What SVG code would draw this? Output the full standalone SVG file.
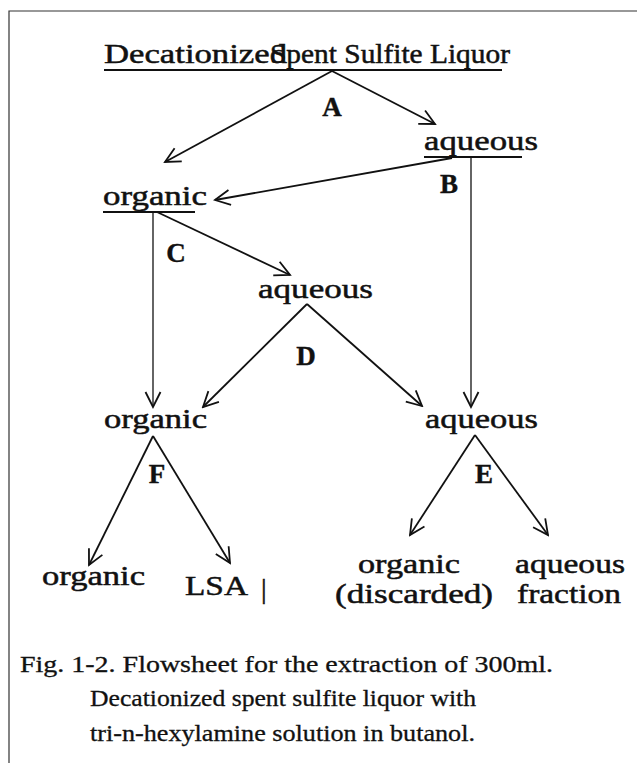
<svg xmlns="http://www.w3.org/2000/svg" width="637" height="763" viewBox="0 0 637 763">
<style>
.t{font-family:"Liberation Serif","Times New Roman",serif;font-size:28px;fill:#111;stroke:#111;stroke-width:0.5}
.b{font-family:"Liberation Serif","Times New Roman",serif;font-size:27px;font-weight:bold;fill:#111;stroke:#111;stroke-width:0.4;text-anchor:middle}
.cap{font-family:"Liberation Serif","Times New Roman",serif;font-size:23px;fill:#111;stroke:#111;stroke-width:0.3}
.ul{stroke:#111;stroke-width:2;fill:none}
.c{stroke:#111;stroke-width:1.8;fill:none}
.v{stroke:#111;stroke-width:1.3;fill:none}
.frame{stroke:#333;stroke-width:1.2;fill:none}
</style>
<defs>
<marker id="ah" viewBox="-16 -9 18 18" refX="0" refY="0" markerWidth="18" markerHeight="18" markerUnits="userSpaceOnUse" orient="auto">
<path d="M-15,-7.5 L0,0 L-15,7.5" stroke="#111" stroke-width="1.8" fill="none" stroke-linejoin="miter"/>
</marker>
</defs>
<rect width="637" height="763" fill="#fff"/>
<g id="frame">
<path class="frame" d="M9,763 L9,11 L637,11"/>
</g>
<g id="n-source">
<text class="t" x="104" y="63" textLength="183" lengthAdjust="spacingAndGlyphs">Decationized</text>
<text class="t" x="270" y="63" textLength="240" lengthAdjust="spacingAndGlyphs">Spent Sulfite Liquor</text>
<path class="ul" d="M104,70 L502,70"/>
</g>
<g id="n-aq1">
<text class="t" x="424" y="150" textLength="114" lengthAdjust="spacingAndGlyphs">aqueous</text>
<path class="ul" d="M424,157 L522,157"/>
</g>
<g id="n-org1">
<text class="t" x="103" y="205" textLength="104" lengthAdjust="spacingAndGlyphs">organic</text>
<path class="ul" d="M103,212 L195,212"/>
</g>
<g id="n-aq2">
<text class="t" x="258" y="298" textLength="115" lengthAdjust="spacingAndGlyphs">aqueous</text>
</g>
<g id="n-org2">
<text class="t" x="104" y="428" textLength="103" lengthAdjust="spacingAndGlyphs">organic</text>
</g>
<g id="n-aq3">
<text class="t" x="425" y="428" textLength="113" lengthAdjust="spacingAndGlyphs">aqueous</text>
</g>
<g id="n-org3">
<text class="t" x="42" y="585" textLength="103" lengthAdjust="spacingAndGlyphs">organic</text>
</g>
<g id="n-lsa">
<text class="t" x="185" y="595" textLength="63" lengthAdjust="spacingAndGlyphs">LSA</text>
<text class="t" x="261" y="598" font-size="22">|</text>
</g>
<g id="n-org4">
<text class="t" x="358" y="573" textLength="102" lengthAdjust="spacingAndGlyphs">organic</text>
<text class="t" x="335" y="603" textLength="158" lengthAdjust="spacingAndGlyphs">(discarded)</text>
</g>
<g id="n-aq4">
<text class="t" x="515" y="573" textLength="110" lengthAdjust="spacingAndGlyphs">aqueous</text>
<text class="t" x="517" y="603" textLength="104" lengthAdjust="spacingAndGlyphs">fraction</text>
</g>
<g id="connectors">
<path class="c" d="M332,71 L165,162" marker-end="url(#ah)"/>
<path class="c" d="M332,71 L435,124" marker-end="url(#ah)"/>
<path class="c" d="M452,158 L215,200" marker-end="url(#ah)"/>
<path class="v" d="M471,157 L471,407" marker-end="url(#ah)"/>
<path class="v" d="M153,212 L153,407" marker-end="url(#ah)"/>
<path class="c" d="M157,212 L290,275" marker-end="url(#ah)"/>
<path class="c" d="M307,304 L203,407" marker-end="url(#ah)"/>
<path class="c" d="M307,304 L422,406" marker-end="url(#ah)"/>
<path class="c" d="M153,436 L89,565" marker-end="url(#ah)"/>
<path class="c" d="M153,436 L230,563" marker-end="url(#ah)"/>
<path class="c" d="M475,435 L410,535" marker-end="url(#ah)"/>
<path class="c" d="M475,435 L548,535" marker-end="url(#ah)"/>
</g>
<g id="labels">
<text class="b" x="332" y="116">A</text>
<text class="b" x="449" y="193">B</text>
<text class="b" x="176" y="262">C</text>
<text class="b" x="306" y="365">D</text>
<text class="b" x="157" y="483">F</text>
<text class="b" x="484" y="483">E</text>
</g>
<g id="caption">
<text class="cap" x="20" y="672" textLength="533" lengthAdjust="spacingAndGlyphs">Fig. 1-2. Flowsheet for the extraction of 300ml.</text>
<text class="cap" x="90" y="706" textLength="386" lengthAdjust="spacingAndGlyphs">Decationized spent sulfite liquor with</text>
<text class="cap" x="90" y="741" textLength="385" lengthAdjust="spacingAndGlyphs">tri-n-hexylamine solution in butanol.</text>
</g>
</svg>
